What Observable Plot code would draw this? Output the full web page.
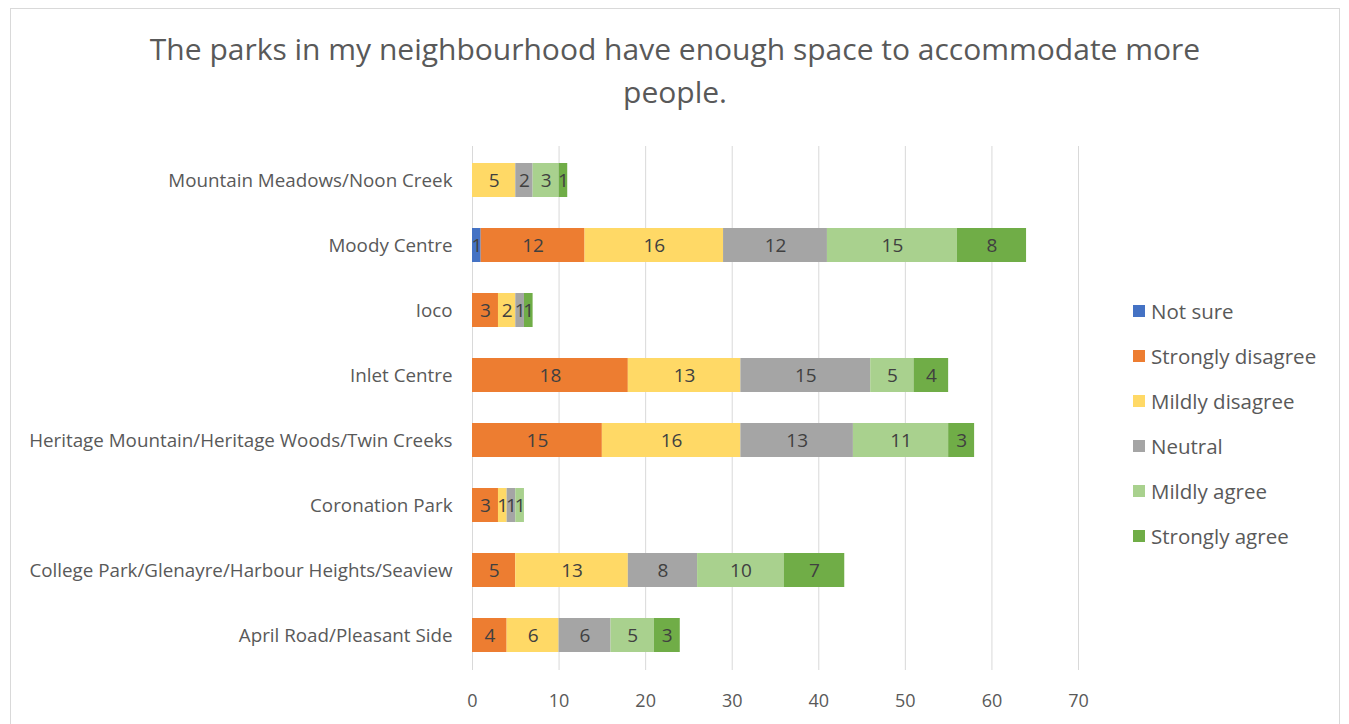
<!DOCTYPE html>
<html>
<head>
<meta charset="utf-8">
<script src="https://cdn.jsdelivr.net/npm/d3@7"></script>
<script src="https://cdn.jsdelivr.net/npm/@observablehq/plot@0.6"></script>
<style>
  html, body { margin: 0; padding: 0; background: #fff; }
  #wrap { position: relative; width: 1349px; height: 724px; overflow: hidden; font-family: "Open Sans", sans-serif; }
  #frame { position: absolute; left: 10px; top: 8px; width: 1330px; height: 760px; border: 1px solid #D9D9D9; box-sizing: border-box; }
  #title { position: absolute; left: 10px; top: 27px; width: 1330px; text-align: center; font-size: 30px; line-height: 43px; color: #595959; }
  #chart { position: absolute; left: 0; top: 130px; }
  #legend { position: absolute; left: 1133px; top: 296px; font-size: 20.5px; color: #595959; }
  .li { display: flex; align-items: center; height: 30px; margin-bottom: 15px; }
  .sw { width: 12px; height: 12px; margin-right: 6px; }
</style>
</head>
<body>
<div id="wrap">
  <div id="frame"></div>
  <div id="title">The parks in my neighbourhood have enough space to accommodate more<br>people.</div>
  <div id="chart"></div>
  <div id="legend"></div>
</div>
<script>
const categories = [
  "Mountain Meadows/Noon Creek",
  "Moody Centre",
  "Ioco",
  "Inlet Centre",
  "Heritage Mountain/Heritage Woods/Twin Creeks",
  "Coronation Park",
  "College Park/Glenayre/Harbour Heights/Seaview",
  "April Road/Pleasant Side"
];
const responses = ["Not sure", "Strongly disagree", "Mildly disagree", "Neutral", "Mildly agree", "Strongly agree"];
const colors = ["#4472C4", "#ED7D31", "#FFD966", "#A5A5A5", "#A9D18E", "#70AD47"];
const notSure          = [0, 1, 0, 0, 0, 0, 0, 0];
const stronglyDisagree = [0, 12, 3, 18, 15, 3, 5, 4];
const mildlyDisagree   = [5, 16, 2, 13, 16, 1, 13, 6];
const neutral          = [2, 12, 1, 15, 13, 1, 8, 6];
const mildlyAgree      = [3, 15, 0, 5, 11, 1, 10, 5];
const stronglyAgree    = [1, 8, 1, 4, 3, 0, 7, 3];
const xTicks = [0, 10, 20, 30, 40, 50, 60, 70];

const series = [notSure, stronglyDisagree, mildlyDisagree, neutral, mildlyAgree, stronglyAgree];
const data = [];
categories.forEach((c, i) => {
  responses.forEach((r, j) => {
    data.push({cat: c, resp: r, value: series[j][i]});
  });
});
const labeled = data.filter(d => d.value > 0);

const plot = Plot.plot({
  width: 1349,
  height: 594,
  marginLeft: 472,
  marginRight: 271,
  marginTop: 16,
  marginBottom: 54,
  style: {fontFamily: "'Open Sans', sans-serif", background: "transparent"},
  x: {domain: [0, 70], ticks: xTicks, label: null},
  y: {domain: categories, label: null, paddingInner: 0.47, paddingOuter: 0.235},
  color: {domain: responses, range: colors},
  marks: [
    Plot.gridX(xTicks, {stroke: "#D9D9D9", strokeOpacity: 1, strokeWidth: 1}),
    Plot.barX(data, Plot.stackX({x: "value", y: "cat", z: "resp", fill: "resp", order: responses})),
    Plot.text(labeled, Plot.stackX({x: "value", y: "cat", z: "resp", text: d => String(d.value), order: responses, fill: "#404040", fontSize: 19})),
    Plot.axisX(xTicks, {tickSize: 0, tickPadding: 24, fontSize: 18, fill: "#595959", color: "#595959"}),
    Plot.axisY({tickSize: 0, tickPadding: 20, fontSize: 18.8, fill: "#595959", color: "#595959"})
  ]
});
document.getElementById("chart").appendChild(plot);

const legend = document.getElementById("legend");
responses.forEach((r, j) => {
  const row = document.createElement("div");
  row.className = "li";
  const sw = document.createElement("div");
  sw.className = "sw";
  sw.style.background = colors[j];
  const t = document.createElement("span");
  t.textContent = r;
  row.appendChild(sw);
  row.appendChild(t);
  legend.appendChild(row);
});
</script>
</body>
</html>
